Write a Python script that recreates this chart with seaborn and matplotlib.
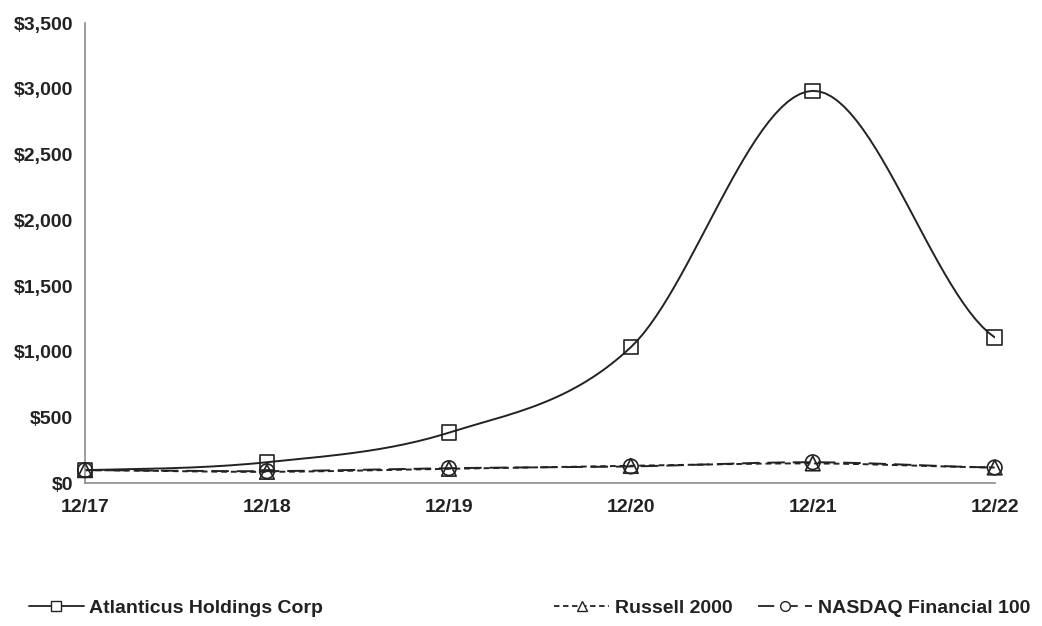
import matplotlib
matplotlib.use("Agg")
import matplotlib.pyplot as plt
from matplotlib.ticker import FuncFormatter
import numpy as np
import pandas as pd
import seaborn as sns

periods = ["12/17", "12/18", "12/19", "12/20", "12/21", "12/22"]
atlanticus = [100, 160, 385, 1035, 2985, 1110]
russell = [100, 87, 110, 132, 151, 120]
nasdaq_fin = [100, 92, 115, 128, 160, 120]

series_names = ["Atlanticus Holdings Corp", "Russell 2000", "NASDAQ Financial 100"]

sns.set_theme(style="white")
plt.rcParams["font.family"] = ["Liberation Sans", "DejaVu Sans"]
plt.rcParams["font.weight"] = "bold"

df = pd.DataFrame({
    "x": np.tile(np.arange(len(periods)), 3),
    "value": atlanticus + russell + nasdaq_fin,
    "series": np.repeat(series_names, len(periods)),
})


def smooth(xs, ys, n=30):
    # Excel-style smoothed line (Catmull-Rom through the points)
    xs = np.asarray(xs, float)
    ys = np.asarray(ys, float)
    px = np.concatenate([[2 * xs[0] - xs[1]], xs, [2 * xs[-1] - xs[-2]]])
    py = np.concatenate([[ys[0]], ys, [ys[-1]]])
    ox, oy = [], []
    t = np.linspace(0, 1, n)
    for i in range(1, len(px) - 2):
        p0, p1, p2, p3 = [np.array([px[j], py[j]]) for j in range(i - 1, i + 3)]
        c1 = p1 + (p2 - p0) / 6
        c2 = p2 - (p3 - p1) / 6
        pts = ((1 - t) ** 3)[:, None] * p1 + (3 * (1 - t) ** 2 * t)[:, None] * c1 \
            + (3 * (1 - t) * t ** 2)[:, None] * c2 + (t ** 3)[:, None] * p2
        ox.extend(pts[:, 0])
        oy.extend(pts[:, 1])
    return np.array(ox), np.array(oy)


INK = "#222222"
styles = {
    "Atlanticus Holdings Corp": dict(ls="-", marker="s", dashes=None),
    "Russell 2000": dict(ls="--", marker="^", dashes=(3, 2)),
    "NASDAQ Financial 100": dict(ls="--", marker="o", dashes=(9, 4)),
}

fig = plt.figure(figsize=(10.42, 6.26), dpi=100)
ax = fig.add_axes([0.0816, 0.228, 0.873, 0.735])

handles = []
for name in series_names:
    sub = df[df["series"] == name]
    st = styles[name]
    sx, sy = smooth(sub["x"], sub["value"])
    line, = ax.plot(sx, sy, color=INK, lw=1.4, ls=st["ls"], zorder=2)
    if st["dashes"]:
        line.set_dashes(st["dashes"])
    sns.scatterplot(data=sub, x="x", y="value", marker=st["marker"], s=110,
                    facecolor="none", edgecolor=INK, linewidth=1.2,
                    ax=ax, zorder=3, legend=False, clip_on=False)
    h, = ax.plot([], [], color=INK, lw=1.3, ls=st["ls"], marker=st["marker"],
                 markersize=7, markerfacecolor="white", markeredgecolor=INK)
    if st["dashes"]:
        h.set_dashes(st["dashes"])
    handles.append(h)

ax.set_xlim(0, len(periods) - 1)
ax.set_ylim(0, 3500)
ax.set_xticks(range(len(periods)))
ax.set_xticklabels(periods)
ax.set_yticks(np.arange(0, 3501, 500))
ax.yaxis.set_major_formatter(FuncFormatter(lambda v, p: f"${v:,.0f}"))
ax.set_xlabel("")
ax.set_ylabel("")

for side in ["top", "right"]:
    ax.spines[side].set_visible(False)
for side in ["left", "bottom"]:
    ax.spines[side].set_color("#8c8c8c")
    ax.spines[side].set_linewidth(1.2)
ax.tick_params(axis="both", which="both", direction="out", length=5, width=1,
               color="#8c8c8c", labelsize=14, labelcolor=INK)
ax.tick_params(axis="x", pad=6)
for lab in ax.get_xticklabels() + ax.get_yticklabels():
    lab.set_fontweight("bold")

# three legend entries placed separately, as in the reference
legend_x = [0.028, 0.532, 0.727]
for h, name, lx in zip(handles, series_names, legend_x):
    leg = fig.legend([h], [name], loc="center left", bbox_to_anchor=(lx, 0.029),
                     frameon=False, handlelength=2.8, handletextpad=0.3,
                     borderaxespad=0, borderpad=0,
                     prop={"weight": "bold", "size": 14})
    for t in leg.get_texts():
        t.set_color(INK)

fig.savefig("out.png", dpi=100, facecolor="white")
plt.close(fig)
